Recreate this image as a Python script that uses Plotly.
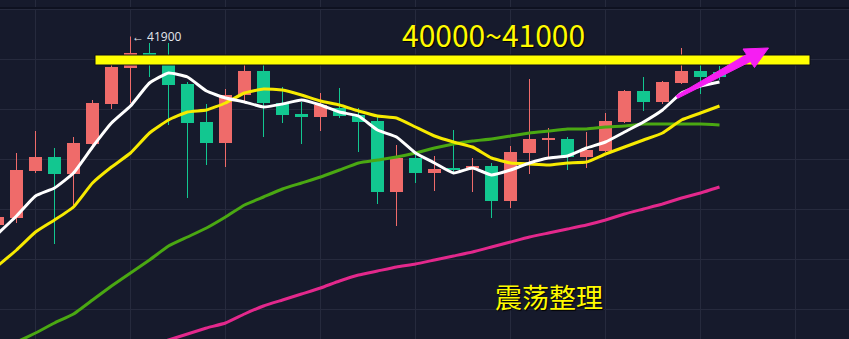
import plotly.graph_objects as go

W, H = 849, 339

# ---- data (prices) ----
idx = list(range(39))
opens = [34360, 34640, 36520, 37080, 36400, 37600, 39200, 40640, 41240, 40880,
         40000, 38480, 37640, 39560, 40520, 39240, 38800, 38680, 39040, 38760,
         38520, 35680, 37040, 36440, 36640, 36640, 36720, 35320, 37240, 37760,
         37800, 37080, 37320, 38480, 39720, 39280, 40040, 40520, 40480]
highs = [34760, 37240, 38120, 37440, 37880, 39360, 40880, 41900, 41640, 41640,
         40080, 39200, 39800, 40840, 40840, 39880, 39280, 39640, 39840, 39040,
         38680, 37560, 37240, 37120, 38160, 37040, 36840, 37520, 40200, 38240,
         37880, 38080, 38840, 39760, 40280, 40120, 41440, 40960, 40720]
lows = [34280, 34440, 36440, 33600, 35120, 37520, 39000, 39240, 40280, 38360,
        35440, 36760, 36680, 39280, 37880, 38440, 37600, 38120, 38640, 37280,
        35200, 34320, 36040, 35720, 36400, 35680, 34640, 35040, 36400, 37080,
        36560, 36640, 37280, 38440, 38920, 39200, 40000, 39600, 40160]
closes = [34680, 36560, 37080, 36400, 37640, 39240, 40680, 41240, 40880, 39960,
          38440, 37640, 39560, 40520, 39240, 38760, 38680, 39160, 38720, 38480,
          35680, 37040, 36440, 36600, 36560, 36720, 35320, 37280, 37800, 37840,
          37080, 37360, 38520, 39720, 39280, 40080, 40520, 40280, 40280]

ma_white = [34000, 34720, 35520, 35840, 36440, 37480, 38440, 39120, 40040, 40440,
            40280, 39720, 39440, 39280, 39080, 39200, 39360, 39160, 38880, 38720,
            38160, 37880, 37240, 36840, 36440, 36640, 36360, 36560, 36840, 37040,
            37120, 37440, 37680, 38080, 38480, 38960, 39640, 39920, 40080]
ma_yellow = [32720, 33360, 34080, 34560, 35080, 36040, 36680, 37240, 38040, 38560,
             38880, 38960, 39240, 39640, 39800, 39760, 39560, 39320, 39160, 38920,
             38720, 38640, 38280, 37920, 37680, 37480, 37040, 36840, 36800, 36760,
             36840, 36880, 37200, 37480, 37760, 38040, 38560, 38840, 39120]
ma_green = [29320, 29680, 30040, 30440, 30800, 31360, 31920, 32440, 32960, 33520,
            33880, 34240, 34680, 35160, 35480, 35800, 36040, 36280, 36560, 36840,
            36960, 37080, 37240, 37440, 37600, 37720, 37800, 37920, 38040, 38120,
            38200, 38200, 38280, 38320, 38400, 38400, 38400, 38400, 38360]
ma_pink = [None] * 8 + [29520, 29760, 30000, 30240, 30440, 30800, 31120, 31360,
                        31600, 31840, 32120, 32360, 32520, 32680, 32800, 32960,
                        33120, 33280, 33480, 33680, 33880, 34040, 34200, 34360,
                        34560, 34800, 35000, 35200, 35440, 35640, 35880]

band_text = "40000~41000"
note_text = "震荡整理"
high_label = "← 41900"

# ---- colours ----
BG = "#161a2c"
GRID = "#262a3d"
UP = "#ef6b6a"
DOWN = "#12c790"

fig = go.Figure()

# wicks
for color, cond in ((UP, lambda o, c: c >= o), (DOWN, lambda o, c: c < o)):
    wx, wy = [], []
    for i, o, h, l, c in zip(idx, opens, highs, lows, closes):
        if cond(o, c):
            wx += [i, i, None]
            wy += [l, h, None]
    fig.add_trace(go.Scatter(x=wx, y=wy, mode="lines", line=dict(color=color, width=1),
                             hoverinfo="skip", showlegend=False))

# bodies
bx, bbase, bh, bc = [], [], [], []
for i, o, c in zip(idx, opens, closes):
    bx.append(i)
    bbase.append(min(o, c))
    bh.append(max(abs(c - o), 60))
    bc.append(UP if c >= o else DOWN)
fig.add_trace(go.Bar(x=bx, y=bh, base=bbase, width=13 / 19,
                     marker=dict(color=bc, line=dict(width=0)), showlegend=False))

# moving averages
for vals, col in ((ma_pink, "#e3288c"), (ma_green, "#4aa812"),
                  (ma_yellow, "#f7ea00"), (ma_white, "#ffffff")):
    fig.add_trace(go.Scatter(x=idx, y=vals, mode="lines",
                             line=dict(color=col, width=3, shape="spline", smoothing=0.4),
                             showlegend=False, hoverinfo="skip"))

def px(x):
    return x / W

def py(y):
    return 1 - y / H

# yellow band
fig.add_shape(type="rect", xref="paper", yref="paper",
              x0=px(95), x1=px(810), y0=py(65), y1=py(55),
              fillcolor="#ffff00", line=dict(color="#0c0e18", width=1), layer="above")

# magenta arrow (tapered polygon)
pts = [(676.3, 95.7), (746.6, 54.5), (743, 49), (768.5, 48), (754.5, 67.5),
       (750.4, 61.5), (677.7, 98.3)]
path = "M " + " L ".join(f"{px(a):.5f},{py(b):.5f}" for a, b in pts) + " Z"
fig.add_shape(type="path", xref="paper", yref="paper", path=path,
              fillcolor="#f61ef2", line=dict(color="#f61ef2", width=1), layer="above")

# top border line
fig.add_shape(type="line", xref="paper", yref="paper", x0=0, x1=1, y0=py(8), y1=py(8),
              line=dict(color="#0e1120", width=2), layer="above")

shadow = "1px 1px 1px #000000"
fig.add_annotation(xref="paper", yref="paper", x=px(493), y=py(34), text=band_text,
                   showarrow=False, xanchor="center", yanchor="middle",
                   font=dict(family="Noto Sans CJK SC", size=30, color="#fffb00", shadow=shadow))
fig.add_annotation(xref="paper", yref="paper", x=px(549), y=py(296), text=note_text,
                   showarrow=False, xanchor="center", yanchor="middle",
                   font=dict(family="Noto Sans CJK SC", size=27, color="#fffb00", shadow=shadow))
fig.add_annotation(x=7, y=41900, xref="x", yref="y", text=high_label, showarrow=False,
                   xanchor="left", yanchor="middle", xshift=-1,
                   font=dict(family="Open Sans", size=12, color="#e4e6ec"))

fig.update_layout(
    width=W, height=H, margin=dict(l=0, r=0, t=0, b=0),
    paper_bgcolor=BG, plot_bgcolor=BG, barmode="overlay", showlegend=False,
    xaxis=dict(range=[2.5 / 19, (W + 2.5) / 19], showticklabels=False, ticks="",
               showgrid=True, gridcolor=GRID, gridwidth=1, tick0=2, dtick=5,
               zeroline=False, showline=False, fixedrange=True),
    yaxis=dict(range=[43360 - 40 * H, 43360], showticklabels=False, ticks="",
               showgrid=True, gridcolor=GRID, gridwidth=1, tick0=31000, dtick=2000,
               zeroline=False, showline=False, fixedrange=True),
)

fig.write_html("out.html", config={"displayModeBar": False})
